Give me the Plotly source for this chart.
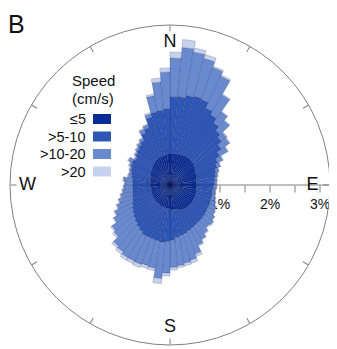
import plotly.graph_objects as go

# the page body has an 8px default margin, so the figure is drawn 8px in
OFF = 8
W, H = 337 - OFF, 349 - OFF

# direction bins (compass bearing of bin centre, 5-degree bins)
theta = [2.5 + 5 * i for i in range(72)]

# frequency (%) per speed class and direction bin
s_le5 = [0.62, 0.63, 0.63, 0.64, 0.64, 0.65, 0.65, 0.65, 0.64, 0.63, 0.61, 0.59,
         0.57, 0.56, 0.55, 0.54, 0.53, 0.53, 0.53, 0.53, 0.54, 0.54, 0.55, 0.55,
         0.55, 0.56, 0.56, 0.56, 0.56, 0.55, 0.55, 0.53, 0.51, 0.50, 0.49, 0.48,
         0.47, 0.47, 0.46, 0.45, 0.45, 0.44, 0.44, 0.43, 0.43, 0.42, 0.41, 0.41,
         0.40, 0.39, 0.39, 0.38, 0.38, 0.38, 0.38, 0.39, 0.40, 0.41, 0.42, 0.44,
         0.45, 0.47, 0.49, 0.51, 0.53, 0.55, 0.57, 0.58, 0.59, 0.60, 0.61, 0.62]
s_5_10 = [1.14, 1.14, 1.19, 1.20, 1.18, 1.05, 0.97, 0.87, 0.78, 0.72, 0.64, 0.56,
          0.48, 0.44, 0.40, 0.38, 0.37, 0.35, 0.34, 0.33, 0.32, 0.32, 0.32, 0.33,
          0.33, 0.34, 0.35, 0.36, 0.37, 0.39, 0.41, 0.45, 0.50, 0.53, 0.57, 0.62,
          0.66, 0.68, 0.68, 0.68, 0.67, 0.68, 0.64, 0.61, 0.57, 0.54, 0.51, 0.47,
          0.44, 0.41, 0.39, 0.38, 0.37, 0.36, 0.36, 0.37, 0.38, 0.39, 0.41, 0.42,
          0.43, 0.38, 0.41, 0.43, 0.45, 0.48, 0.58, 0.64, 0.81, 0.88, 0.89, 0.91]
s_10_20 = [0.78, 0.99, 0.88, 0.78, 0.68, 0.70, 0.46, 0.26, 0.26, 0.13, 0.20, 0.18,
           0.11, 0.07, 0.06, 0.05, 0.04, 0.05, 0.06, 0.05, 0.06, 0.08, 0.10, 0.14,
           0.16, 0.19, 0.22, 0.19, 0.25, 0.31, 0.36, 0.49, 0.55, 0.56, 0.56, 0.55,
           0.63, 0.73, 0.55, 0.54, 0.57, 0.56, 0.60, 0.59, 0.60, 0.50, 0.50, 0.42,
           0.38, 0.33, 0.28, 0.24, 0.20, 0.18, 0.16, 0.17, 0.07, 0.04, 0.03, 0.04,
           0.08, 0.03, 0.03, 0.04, 0.05, 0.05, 0.08, 0.06, 0.07, 0.33, 0.57, 0.73]
s_gt20 = [0.12, 0.16, 0.08, 0.08, 0.03, 0.03, 0.02, 0.02, 0.02, 0.02, 0.02, 0.02,
          0.02, 0.01, 0.01, 0.01, 0.01, 0.01, 0.01, 0.01, 0.01, 0.01, 0.01, 0.01,
          0.01, 0.01, 0.02, 0.02, 0.02, 0.02, 0.03, 0.05, 0.06, 0.05, 0.04, 0.05,
          0.06, 0.10, 0.05, 0.06, 0.07, 0.06, 0.06, 0.06, 0.05, 0.04, 0.03, 0.02,
          0.02, 0.02, 0.02, 0.02, 0.02, 0.02, 0.02, 0.02, 0.02, 0.02, 0.02, 0.02,
          0.02, 0.02, 0.02, 0.02, 0.02, 0.02, 0.02, 0.02, 0.03, 0.04, 0.08, 0.08]

classes = ["≤5", ">5-10", ">10-20", ">20"]
series = [s_le5, s_5_10, s_10_20, s_gt20]
colors = ["#0a2c96", "#2e56b6", "#6a8ad0", "#c7d3ee"]

r_ticks = [0.5, 1, 1.5, 2, 2.5, 3]
r_ticktext = ["", "1%", "", "2%", "", "3%"]
compass = ["N", "E", "S", "W"]
compass_theta = [0, 90, 180, 270]

FONT = "Liberation Sans, Arial, sans-serif"
GRAY = "#808080"

fig = go.Figure()
for name, vals, col in zip(classes, series, colors):
    fig.add_trace(go.Barpolar(
        r=vals, theta=theta, width=[5] * len(theta), name=name,
        marker=dict(color=col, line=dict(color="rgba(20,30,80,0.4)", width=0.5)),
        showlegend=False, hoverinfo="skip"))

fig.add_trace(go.Scatterpolar(
    r=[2.85] * 4, theta=compass_theta, mode="text", text=compass,
    textfont=dict(family=FONT, size=18, color="#111"), showlegend=False,
    hoverinfo="skip"))

fig.update_layout(
    width=W, height=H, margin=dict(l=0, r=0, t=0, b=0, autoexpand=False),
    paper_bgcolor="white", plot_bgcolor="white",
    font=dict(family=FONT, color="#111"),
    polar=dict(
        domain=dict(x=[(10 - OFF) / W, (330 - OFF) / W],
                    y=[1 - (345 - OFF) / H, 1 - (25 - OFF) / H]),
        bgcolor="white", barmode="stack",
        angularaxis=dict(direction="clockwise", rotation=90,
                         tickmode="array",
                         tickvals=list(range(0, 360, 30)), ticks="inside",
                         ticklen=6, tickcolor=GRAY, tickwidth=1,
                         showticklabels=False, visible=True,
                         showline=True, linecolor=GRAY, linewidth=1,
                         showgrid=False, layer="above traces"),
        radialaxis=dict(range=[0, 3.2], angle=0, tickmode="array",
                        tickvals=r_ticks, ticktext=r_ticktext,
                        ticks="outside", ticklen=7, tickwidth=1,
                        tickcolor=GRAY, showline=True, linecolor=GRAY,
                        linewidth=1, showgrid=False, side="clockwise",
                        tickangle=0, layer="below traces",
                        tickfont=dict(family=FONT, size=14, color="#111")),
    ),
)

def px(x):
    return (x - OFF) / W

def py(y):
    return 1 - (y - OFF) / H

ann = [dict(text="B", x=px(6), y=py(8), xanchor="left", yanchor="top",
            font=dict(size=25, family=FONT, color="#111")),
       dict(text="Speed", x=px(93), y=py(80), xanchor="center", yanchor="middle",
            font=dict(size=15, family=FONT, color="#111")),
       dict(text="(cm/s)", x=px(93), y=py(98), xanchor="center", yanchor="middle",
            font=dict(size=15, family=FONT, color="#111"))]
shapes = []
ys = [119, 136.5, 154, 171.5]
for name, col, yc in zip(classes, colors, ys):
    ann.append(dict(text=name, x=px(88), y=py(yc), xanchor="right", yanchor="middle",
                    font=dict(size=14.5, family=FONT, color="#111")))
    shapes.append(dict(type="rect", xref="paper", yref="paper",
                       x0=px(93), x1=px(111), y0=py(yc + 5), y1=py(yc - 5),
                       fillcolor=col, line=dict(width=0)))
for a in ann:
    a.update(xref="paper", yref="paper", showarrow=False)
fig.update_layout(annotations=ann, shapes=shapes)

fig.write_html("out.html")
